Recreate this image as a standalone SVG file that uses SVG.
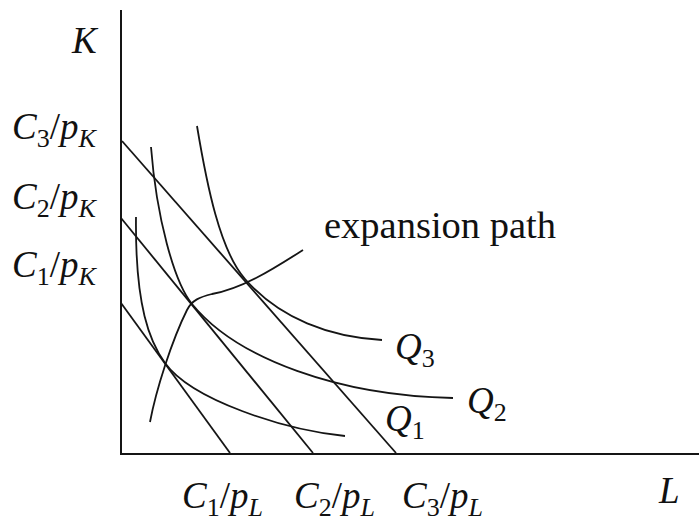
<svg xmlns="http://www.w3.org/2000/svg" width="699" height="525" viewBox="0 0 699 525">
<style>
.ln{fill:none;stroke:#151515;stroke-width:1.8;stroke-linecap:butt}
.ax{fill:none;stroke:#151515;stroke-width:2}
.m{font-family:"Liberation Serif","Times New Roman",serif;font-style:italic;font-size:37px;fill:#111}
.r{font-style:normal}
.s{font-size:26px}
.t{font-family:"Liberation Serif","Times New Roman",serif;font-size:38.5px;fill:#111}
</style>
<rect width="699" height="525" fill="#fff"/>
<g id="axes">
<path class="ax" d="M121,10 V454 H699"/>
</g>
<g id="connectors">
<path id="budget1" class="ln" d="M121,303 L230,453"/>
<path id="budget2" class="ln" d="M121,218 L313,453"/>
<path id="budget3" class="ln" d="M122,141 L396,453"/>
<path id="expansion" class="ln" d="M150,422 C156,390 172,340 187,310 C192,300 200,297 212,294 C245,288 278,265.7 303,250"/>
</g>
<g id="Q1-curve"><path class="ln" d="M136,217 C135,307 150,342.2 165,363 C192,400.4 285,430 345,436"/></g>
<g id="Q2-curve"><path class="ln" d="M151,147 C156.4,217 174,281.9 192,304 C237,359.2 340,396 453,398"/></g>
<g id="Q3-curve"><path class="ln" d="M197,126 C207,186 220,250.5 245,279 C280,319 330,337 382,340"/></g>
<g id="labels">
<text class="m" x="72" y="53">K</text>
<text class="m" x="12" y="139">C<tspan class="s r" dy="8">3</tspan><tspan class="r" dy="-8">/</tspan>p<tspan class="s" dy="8">K</tspan></text>
<text class="m" x="12" y="209">C<tspan class="s r" dy="8">2</tspan><tspan class="r" dy="-8">/</tspan>p<tspan class="s" dy="8">K</tspan></text>
<text class="m" x="12" y="277">C<tspan class="s r" dy="8">1</tspan><tspan class="r" dy="-8">/</tspan>p<tspan class="s" dy="8">K</tspan></text>
<text class="m" x="182" y="508">C<tspan class="s r" dy="8">1</tspan><tspan class="r" dy="-8">/</tspan>p<tspan class="s" dy="8">L</tspan></text>
<text class="m" x="294" y="508">C<tspan class="s r" dy="8">2</tspan><tspan class="r" dy="-8">/</tspan>p<tspan class="s" dy="8">L</tspan></text>
<text class="m" x="402" y="508">C<tspan class="s r" dy="8">3</tspan><tspan class="r" dy="-8">/</tspan>p<tspan class="s" dy="8">L</tspan></text>
<text class="m" x="659" y="503">L</text>
<text class="t" x="324" y="238">expansion path</text>
<text class="m" x="395" y="359">Q<tspan class="s r" dy="8">3</tspan></text>
<text class="m" x="467" y="413">Q<tspan class="s r" dy="8">2</tspan></text>
<text class="m" x="385" y="431">Q<tspan class="s r" dy="8">1</tspan></text>
</g>
</svg>
